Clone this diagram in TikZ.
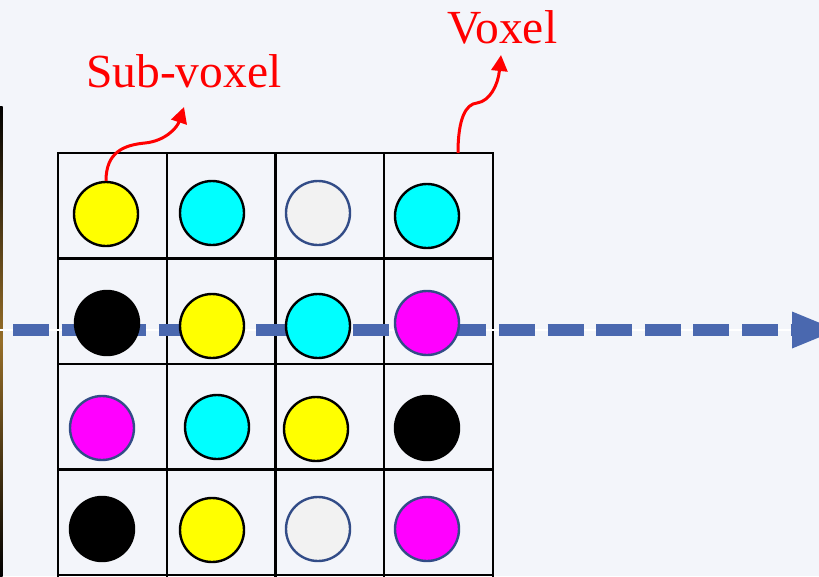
\documentclass[tikz,border=0pt]{standalone}
\usepackage{fontspec}
\setmainfont{Liberation Serif}
\usetikzlibrary{arrows.meta}
\definecolor{bg}{RGB}{243,245,250}
\definecolor{dashblue}{RGB}{74,104,175}
\definecolor{ringblue}{RGB}{50,76,135}
\definecolor{lightdot}{RGB}{242,242,242}
\definecolor{stripmid}{RGB}{150,110,40}
\definecolor{dotyellow}{RGB}{255,255,0}
\definecolor{dotcyan}{RGB}{0,255,255}
\definecolor{dotmagenta}{RGB}{255,0,255}
\definecolor{pured}{RGB}{255,0,0}
\tikzset{
  dot/.style={circle, minimum size=64pt, inner sep=0pt, line width=2.4pt, draw=black},
  ydot/.style={dot, fill=dotyellow},
  cdot/.style={dot, fill=dotcyan},
  kdot/.style={dot, fill=black},
  mdot/.style={dot, fill=dotmagenta, draw=ringblue},
  gdot/.style={dot, fill=lightdot, draw=ringblue},
  calltext/.style={text=pured, font=\fontsize{47.5}{50}\selectfont, inner sep=0pt, anchor=base west},
  callout/.style={pured, line width=3pt, -{Triangle[length=16pt,width=16pt]}},
  gridline/.style={black, line width=2.4pt},
  ray/.style={dashblue, line width=12pt, dash pattern=on 36pt off 12.6pt},
}
\begin{document}
\begin{tikzpicture}[x=1pt,y=-1pt]
\useasboundingbox (0,0) rectangle (819,576);
\fill[bg] (0,0) rectangle (819,576);
\clip (0,0) rectangle (819,576);
% image strip at left edge
\shade[top color=black, bottom color=black, middle color=stripmid] (0,106) rectangle (2.5,576);
% grid
\foreach \x in {58,166.75,275.5,384.25,493}
  \draw[gridline] (\x,152) -- (\x,577);
\foreach \y in {153,258.5,364,469.5,575}
  \draw[gridline] (57,\y) -- (494,\y);
% dashed ray
\coordinate (rayS) at (13,330);
\coordinate (rayE) at (792,330);
\coordinate (rayT) at (837,330);
\draw[white, line width=1.3pt] (0,330) -- (rayE);
\draw[ray] (rayS) -- (rayE);
\fill[dashblue] ([yshift=-18.5pt]rayE) -- (rayT) -- ([yshift=18.5pt]rayE) -- cycle;
% sub-voxels
\node[ydot] (c11) at (106,214) {};
\node[cdot] (c12) at (212,213) {};
\node[gdot] (c13) at (318,213) {};
\node[cdot] (c14) at (427,216) {};
\node[kdot] (c21) at (107,323) {};
\node[ydot] (c22) at (212,326) {};
\node[cdot] (c23) at (318,326) {};
\node[mdot] (c24) at (427,323) {};
\node[mdot] (c31) at (102,428) {};
\node[cdot] (c32) at (217,427) {};
\node[ydot] (c33) at (316,429) {};
\node[kdot] (c34) at (427,428) {};
\node[kdot] (c41) at (102,529) {};
\node[ydot] (c42) at (212,530) {};
\node[gdot] (c43) at (318,529) {};
\node[mdot] (c44) at (427,529) {};
% labels
\node[calltext] (subtext) at (86,87) {Sub-voxel};
\node[calltext] (voxtext) at (447,43) {Voxel};
% callouts
\coordinate (subtip) at (184,107);
\coordinate (vstart) at (458,153);
\coordinate (vtip) at (501,55);
\draw[callout] (c11.north) .. controls (106,152) and (124,145) .. (145,143) .. controls (165,141) and (177,128) .. (subtip);
\draw[callout] (vstart) .. controls (458,118) and (466,104) .. (477,103) .. controls (490,101) and (498,85) .. (vtip);
\end{tikzpicture}
\end{document}
